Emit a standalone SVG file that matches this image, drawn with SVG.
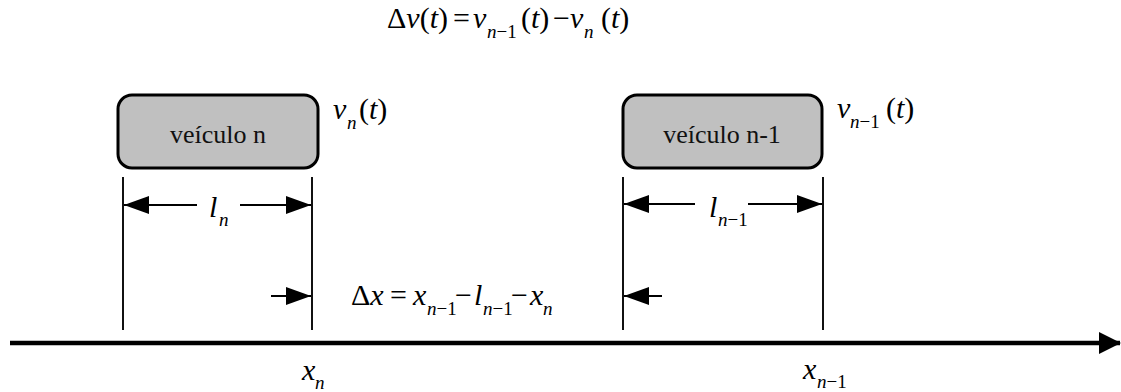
<svg xmlns="http://www.w3.org/2000/svg" width="1121" height="392" viewBox="0 0 1121 392">
<style>
text{font-family:'Liberation Serif','Times New Roman',Times,'DejaVu Serif',serif}
.box{fill:#c0c0c0;stroke:#000;stroke-width:3}
.bt{font-size:26px;fill:#111;text-anchor:middle}
.m{font-size:30px;fill:#000}
.i{font-style:italic}
.s{font-size:19px}
.ext{stroke:#111;stroke-width:2;fill:none}
.dim{stroke:#000;stroke-width:2;fill:none}
.axis{stroke:#000;stroke-width:4.5;fill:none}
</style>
<defs>
<marker id="ah" viewBox="0 0 25 18" refX="25" refY="9" markerWidth="25" markerHeight="18" markerUnits="userSpaceOnUse" orient="auto">
<path d="M0,0 L25,9 L0,18 Z" fill="#000"/>
</marker>
<marker id="axh" viewBox="0 0 22 22" refX="21" refY="11" markerWidth="22" markerHeight="22" markerUnits="userSpaceOnUse" orient="auto">
<path d="M0,0 L22,11 L0,22 Z" fill="#000"/>
</marker>
</defs>

<g id="eq-dv">
<text class="m" y="28"><tspan x="387">Δ</tspan><tspan class="i">v</tspan>(<tspan class="i">t</tspan>)<tspan x="453">=</tspan><tspan x="473" class="i">v</tspan><tspan x="487" y="38" class="s"><tspan class="i">n</tspan>−1</tspan><tspan x="521" y="28">(<tspan class="i">t</tspan>)</tspan><tspan x="553">−</tspan><tspan x="570" class="i">v</tspan><tspan x="584" y="38" class="s i">n</tspan><tspan x="601" y="28">(<tspan class="i">t</tspan>)</tspan></text>
</g>

<g id="veiculo-n">
<rect class="box" x="118" y="95" width="200" height="73" rx="14"/>
<text class="bt" x="218" y="143">veículo n</text>
<text class="m" y="119"><tspan x="333" class="i">v</tspan><tspan x="347" y="129" class="s i">n</tspan><tspan x="359" y="119">(<tspan class="i">t</tspan>)</tspan></text>
</g>

<g id="veiculo-n-1">
<rect class="box" x="623" y="95" width="199" height="73" rx="14"/>
<text class="bt" x="722" y="143">veículo n-1</text>
<text class="m" y="118"><tspan x="837" class="i">v</tspan><tspan x="850" y="128" class="s"><tspan class="i">n</tspan>−1</tspan><tspan x="886" y="118">(<tspan class="i">t</tspan>)</tspan></text>
</g>

<g id="connectors">
<line class="ext" x1="123" y1="177" x2="123" y2="330"/>
<line class="ext" x1="312" y1="177" x2="312" y2="330"/>
<line class="ext" x1="623" y1="177" x2="623" y2="330"/>
<line class="ext" x1="823" y1="177" x2="823" y2="330"/>
<line class="dim" x1="197" y1="205" x2="124" y2="205" marker-end="url(#ah)"/>
<line class="dim" x1="240" y1="205" x2="311" y2="205" marker-end="url(#ah)"/>
<line class="dim" x1="695" y1="204" x2="624" y2="204" marker-end="url(#ah)"/>
<line class="dim" x1="748" y1="204" x2="822" y2="204" marker-end="url(#ah)"/>
<line class="dim" x1="271" y1="296" x2="311" y2="296" marker-end="url(#ah)"/>
<line class="dim" x1="662" y1="296" x2="624" y2="296" marker-end="url(#ah)"/>
<line class="axis" x1="10" y1="343" x2="1120" y2="343" marker-end="url(#axh)"/>
</g>

<g id="labels">
<text class="m" y="217"><tspan x="209" class="i">l</tspan><tspan x="219" y="226" class="s i">n</tspan></text>
<text class="m" y="217"><tspan x="709" class="i">l</tspan><tspan x="718" y="226" class="s"><tspan class="i">n</tspan>−1</tspan></text>
<text class="m" y="305"><tspan x="351">Δ</tspan><tspan class="i">x</tspan><tspan x="390">=</tspan><tspan x="413" class="i">x</tspan><tspan x="427" y="315" class="s"><tspan class="i">n</tspan>−1</tspan><tspan x="455" y="305">−</tspan><tspan x="474" class="i">l</tspan><tspan x="483" y="315" class="s"><tspan class="i">n</tspan>−1</tspan><tspan x="511" y="305">−</tspan><tspan x="530" class="i">x</tspan><tspan x="543" y="315" class="s i">n</tspan></text>
<text class="m" y="380"><tspan x="302" class="i">x</tspan><tspan x="315" y="389" class="s i">n</tspan></text>
<text class="m" y="379"><tspan x="803" class="i">x</tspan><tspan x="817" y="388" class="s"><tspan class="i">n</tspan>−1</tspan></text>
</g>
</svg>
